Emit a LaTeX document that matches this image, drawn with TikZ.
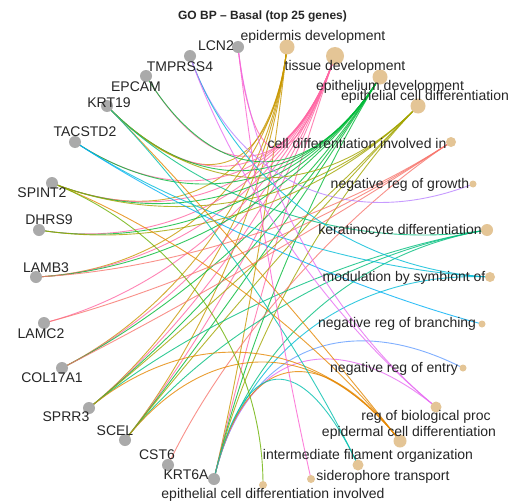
\documentclass[tikz,border=0pt]{standalone}
\usepackage{fontspec}
\setmainfont{Liberation Sans}
\usetikzlibrary{calc}
\definecolor{genegray}{RGB}{170,170,170}
\definecolor{termtan}{RGB}{228,197,150}
\definecolor{txt}{RGB}{38,38,38}
\definecolor{cCDI}{HTML}{F8766D}
\definecolor{cEPCD}{HTML}{E58700}
\definecolor{cEPD}{HTML}{C99800}
\definecolor{cECD}{HTML}{A3A500}
\definecolor{cECDI}{HTML}{6BB100}
\definecolor{cEMD}{HTML}{00BA38}
\definecolor{cKER}{HTML}{00BF7D}
\definecolor{cIFO}{HTML}{00C0AF}
\definecolor{cMOD}{HTML}{00BCD8}
\definecolor{cNRB}{HTML}{00B0F6}
\definecolor{cNRE}{HTML}{619CFF}
\definecolor{cNRG}{HTML}{B983FF}
\definecolor{cRBP}{HTML}{E76BF3}
\definecolor{cSID}{HTML}{FD61D1}
\definecolor{cTD}{HTML}{FF67A4}
\newcommand\cnetedge[3]{\draw[cedge,#3] (#1) .. controls ($(#1)!0.6!(ctr)$) and ($(#2)!0.6!(ctr)$) .. (#2);}
\begin{document}
\begin{tikzpicture}[x=1pt,y=-1pt,
  cedge/.style={line width=0.9pt,opacity=0.8},
  genedot/.style={circle,fill=genegray,inner sep=0pt,minimum size=12pt},
  termdot/.style={circle,fill=termtan,inner sep=0pt},
  lab/.style={text=txt,inner sep=0pt,font=\fontsize{14}{14}\selectfont},
  ttl/.style={text=txt,inner sep=0pt,font=\bfseries\fontsize{12}{12}\selectfont}]
\useasboundingbox[fill=white] (0,0) rectangle (508,503);
\coordinate (ctr) at (263,266);
% genes
\coordinate (LCN2) at (238,47);
\coordinate (TMPRSS4) at (190,56);
\coordinate (EPCAM) at (146,76);
\coordinate (KRT19) at (107,106);
\coordinate (TACSTD2) at (75,142);
\coordinate (SPINT2) at (52,183);
\coordinate (DHRS9) at (39,230);
\coordinate (LAMB3) at (36,277);
\coordinate (LAMC2) at (44,323);
\coordinate (COL17A1) at (62,368);
\coordinate (SPRR3) at (89,408);
\coordinate (SCEL) at (125,440);
\coordinate (CST6) at (168,465);
\coordinate (KRT6A) at (214,479);
% terms
\coordinate (EPD) at (287,47);
\coordinate (TD) at (335,56);
\coordinate (EMD) at (380,77);
\coordinate (ECD) at (418,106);
\coordinate (CDI) at (451,142);
\coordinate (NRG) at (473,184);
\coordinate (KER) at (487,230);
\coordinate (MOD) at (490,277);
\coordinate (NRB) at (482,324);
\coordinate (NRE) at (463,368);
\coordinate (RBP) at (436,407);
\coordinate (EPCD) at (400,441);
\coordinate (IFO) at (358,465);
\coordinate (SID) at (311,479);
\coordinate (ECDI) at (263,485);
% edges
\foreach \g in {KRT19,SPINT2,LAMB3,COL17A1,SPRR3,SCEL,KRT6A} {\cnetedge{\g}{EPD}{cEPD}}
\foreach \g in {LCN2,EPCAM,KRT19,TACSTD2,SPINT2,DHRS9,LAMB3,LAMC2,COL17A1,SPRR3,SCEL,KRT6A} {\cnetedge{\g}{TD}{cTD}}
\foreach \g in {EPCAM,KRT19,TACSTD2,SPINT2,DHRS9,LAMB3,COL17A1,SPRR3,SCEL,KRT6A} {\cnetedge{\g}{EMD}{cEMD}}
\foreach \g in {KRT19,SPINT2,DHRS9,SPRR3,SCEL,KRT6A} {\cnetedge{\g}{ECD}{cECD}}
\foreach \g in {LAMB3,LAMC2,COL17A1,CST6} {\cnetedge{\g}{CDI}{cCDI}}
\foreach \g in {TMPRSS4} {\cnetedge{\g}{NRG}{cNRG}}
\foreach \g in {KRT19,SPRR3,SCEL,KRT6A} {\cnetedge{\g}{KER}{cKER}}
\foreach \g in {TMPRSS4,TACSTD2,KRT6A} {\cnetedge{\g}{MOD}{cMOD}}
\foreach \g in {TACSTD2} {\cnetedge{\g}{NRB}{cNRB}}
\foreach \g in {KRT6A} {\cnetedge{\g}{NRE}{cNRE}}
\foreach \g in {TMPRSS4,LCN2,KRT6A} {\cnetedge{\g}{RBP}{cRBP}}
\foreach \g in {KRT19,SPINT2,SPRR3,SCEL,KRT6A} {\cnetedge{\g}{EPCD}{cEPCD}}
\foreach \g in {KRT19,KRT6A} {\cnetedge{\g}{IFO}{cIFO}}
\foreach \g in {LCN2} {\cnetedge{\g}{SID}{cSID}}
\foreach \g in {SPINT2} {\cnetedge{\g}{ECDI}{cECDI}}
% gene dots
\foreach \g in {LCN2,TMPRSS4,EPCAM,KRT19,TACSTD2,SPINT2,DHRS9,LAMB3,LAMC2,COL17A1,SPRR3,SCEL,CST6,KRT6A}
  {\node[genedot] (\g dot) at (\g) {};}
% term dots
\node[termdot,minimum size=15pt] (EPDdot) at (EPD) {};
\node[termdot,minimum size=18pt] (TDdot) at (TD) {};
\node[termdot,minimum size=15pt] (EMDdot) at (EMD) {};
\node[termdot,minimum size=15pt] (ECDdot) at (ECD) {};
\node[termdot,minimum size=10pt] (CDIdot) at (CDI) {};
\node[termdot,minimum size=7pt] (NRGdot) at (NRG) {};
\node[termdot,minimum size=12pt] (KERdot) at (KER) {};
\node[termdot,minimum size=10pt] (MODdot) at (MOD) {};
\node[termdot,minimum size=7pt] (NRBdot) at (NRB) {};
\node[termdot,minimum size=7pt] (NREdot) at (NRE) {};
\node[termdot,minimum size=11pt] (RBPdot) at (RBP) {};
\node[termdot,minimum size=13pt] (EPCDdot) at (EPCD) {};
\node[termdot,minimum size=11pt] (IFOdot) at (IFO) {};
\node[termdot,minimum size=8pt] (SIDdot) at (SID) {};
\node[termdot,minimum size=8pt] (ECDIdot) at (ECDI) {};
% title
\node[ttl] (title) at (262.5,16) {GO BP – Basal (top 25 genes)};
% gene labels
\node[lab] (LCN2lab) at (216,46) {LCN2};
\node[lab] (TMPRSS4lab) at (180,67) {TMPRSS4};
\node[lab] (EPCAMlab) at (136,87) {EPCAM};
\node[lab] (KRT19lab) at (109,103) {KRT19};
\node[lab] (TACSTD2lab) at (85,132) {TACSTD2};
\node[lab] (SPINT2lab) at (42,193) {SPINT2};
\node[lab] (DHRS9lab) at (49,220) {DHRS9};
\node[lab] (LAMB3lab) at (46,268) {LAMB3};
\node[lab] (LAMC2lab) at (41,334) {LAMC2};
\node[lab] (COL17A1lab) at (52,378) {COL17A1};
\node[lab] (SPRR3lab) at (66,417) {SPRR3};
\node[lab] (SCELlab) at (115,431) {SCEL};
\node[lab] (CST6lab) at (157,455) {CST6};
\node[lab] (KRT6Alab) at (186,475) {KRT6A};
% term labels
\node[lab] (EPDlab) at (313,37) {epidermis development};
\node[lab] (TDlab) at (345,67) {tissue development};
\node[lab] (EMDlab) at (390,87) {epithelium development};
\node[lab] (ECDlab) at (425,97) {epithelial cell differentiation};
\node[lab] (CDIlab) at (357,143) {cell differentiation involved in};
\node[lab] (NRGlab) at (400,185) {negative reg of growth};
\node[lab] (KERlab) at (400,231) {keratinocyte differentiation};
\node[lab] (MODlab) at (404,278) {modulation by symbiont of};
\node[lab] (NRBlab) at (397,324) {negative reg of branching};
\node[lab] (NRElab) at (394,369) {negative reg of entry};
\node[lab] (RBPlab) at (426,417) {reg of biological proc};
\node[lab] (EPCDlab) at (409,433) {epidermal cell differentiation};
\node[lab] (IFOlab) at (368,456) {intermediate filament organization};
\node[lab] (SIDlab) at (383,477) {siderophore transport};
\node[lab] (ECDIlab) at (273,495) {epithelial cell differentiation involved};
\end{tikzpicture}
\end{document}
